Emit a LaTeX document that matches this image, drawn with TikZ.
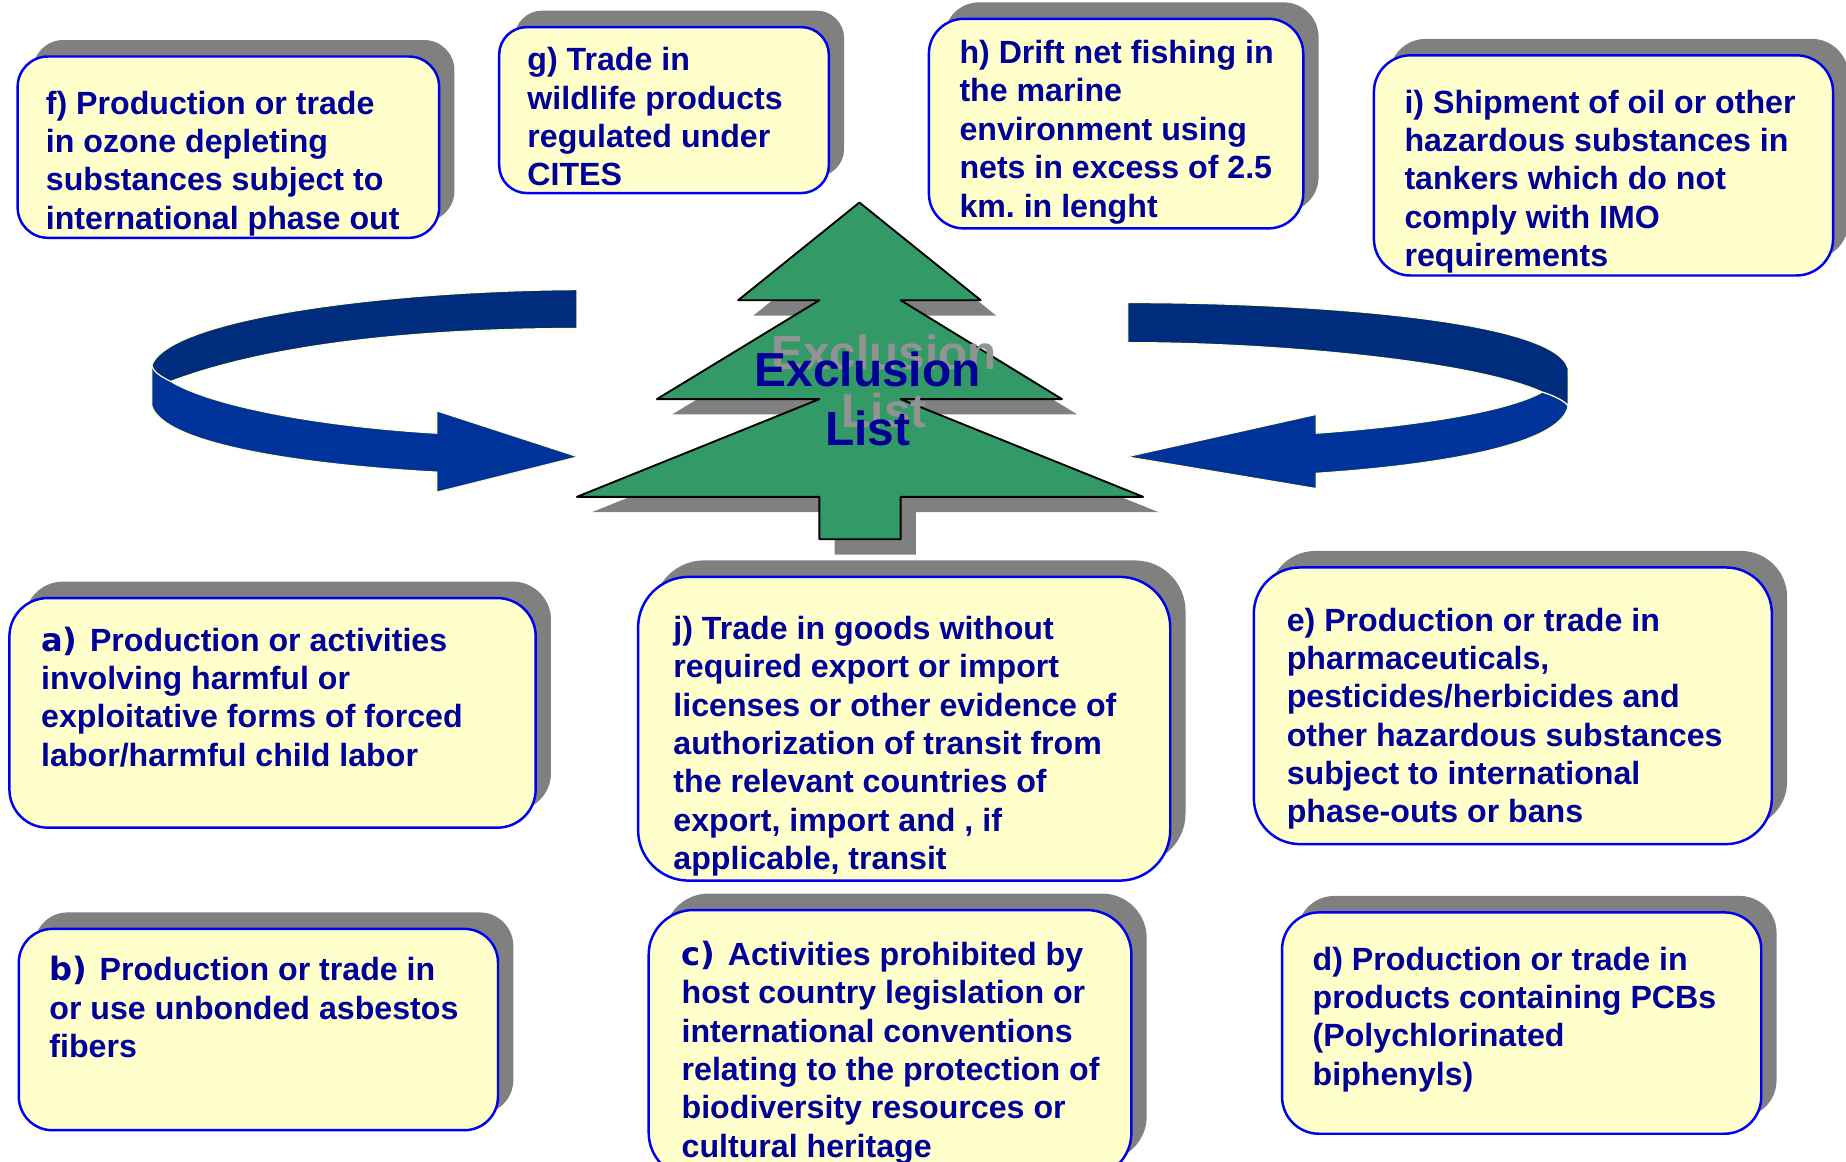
\documentclass[tikz,border=0pt]{standalone}
\usepackage{fontspec}
\setmainfont{Liberation Sans}[Scale=1]
\newfontfamily\lblfont{DejaVu Sans}
\frenchspacing
\definecolor{boxfill}{HTML}{FFFFCC}
\definecolor{boxline}{HTML}{0000F0}
\definecolor{shadowgray}{HTML}{808080}
\definecolor{inktxt}{HTML}{000099}
\definecolor{treegreen}{HTML}{339966}
\definecolor{arrowlight}{HTML}{003399}
\definecolor{arrowdark}{HTML}{002C7D}
\newcommand{\ebox}[8]{% name x1 y1 x2 y2 textx baseline text
  \pgfmathsetmacro{\bw}{#4-#2}\pgfmathsetmacro{\bh}{#5-#3}%
  \pgfmathsetmacro{\rr}{min(\bw,\bh)/6}%
  \pgfmathsetmacro{\padx}{#6-#2}%
  \pgfmathsetmacro{\tw}{\bw-2*\padx+10}%
  \pgfmathsetmacro{\dd}{#7-#3}%
  \fill[shadowgray,rounded corners=\rr pt] (#2+13,-#3+14) rectangle (#4+13,-#5+14);
  \node[ebx,rounded corners=\rr pt,inner xsep=0pt,anchor=north west] (#1) at (#2,-#3)
    {\hspace*{\padx pt}\begin{minipage}[c][\bh pt][t]{\tw pt}\rule{0pt}{\dd pt}#8\end{minipage}\hspace*{\padx pt}\hspace*{-10pt}};
}
\tikzset{
  x=1pt,y=1pt,
  ebx/.style={draw=boxline,fill=boxfill,line width=2.1pt,inner ysep=0pt,outer sep=0pt,text=inktxt,font=\fontsize{27.3}{32.6}\selectfont\bfseries},
  ribbon/.style={draw=boxfill,line width=1pt,line join=bevel},
  treeshape/.style={draw=black,line width=1.6pt,fill=treegreen,line join=round},
  treeshadow/.style={fill=shadowgray},
  tlabel/.style={font=\fontsize{40.6}{50}\selectfont\bfseries,align=center,text=inktxt},
  tlabelshadow/.style={font=\fontsize{40.6}{50}\selectfont\bfseries,align=center,text=shadowgray!85!white}
}
\begin{document}
\begin{tikzpicture}
\useasboundingbox (0,0) rectangle (1568,-987);
\clip (0,0) rectangle (1568,-987);
% boxes
\ebox{f}{15}{48}{373}{202}{39}{97}{f) Production or trade\\in ozone depleting\\substances subject to\\international phase out}
\ebox{g}{424}{23}{704}{164}{448}{60}{g) Trade in\\wildlife products\\regulated under\\CITES}
\ebox{h}{789}{16}{1107}{194}{815}{54}{h) Drift net fishing in\\the marine\\environment using\\nets in excess of 2.5\\km. in lenght}
\ebox{i}{1167}{47}{1557}{234}{1193}{96}{i) Shipment of oil or other\\hazardous substances in\\tankers which do not\\comply with IMO\\requirements}
\ebox{a}{8}{508}{455}{703}{35}{553}{{\lblfont a)}\hspace{3pt} Production or activities\\involving harmful or\\exploitative forms of forced\\labor/harmful child labor}
\ebox{j}{542}{490}{994}{748}{572}{543}{j) Trade in goods without\\required export or import\\licenses or other evidence of\\authorization of transit from\\the relevant countries of\\export, import and , if\\applicable, transit}
\ebox{e}{1065}{482}{1505}{717}{1093}{536}{e) Production or trade in\\pharmaceuticals,\\pesticides/herbicides and\\other hazardous substances\\subject to international\\phase-outs or bans}
\ebox{b}{16}{789}{423}{960}{42}{833}{{\lblfont b)}\hspace{3pt} Production or trade in\\or use unbonded asbestos\\fibers}
\ebox{c}{551}{773}{961}{1000}{579}{820}{{\lblfont c)}\hspace{3pt} Activities prohibited by\\host country legislation or\\international conventions\\relating to the protection of\\biodiversity resources or\\cultural heritage}
\ebox{d}{1089}{775}{1496}{963}{1115}{824}{d) Production or trade in\\products containing PCBs\\(Polychlorinated\\biphenyls)}
% tree
\fill[treeshadow,shift={(13,-13)}] (730,-172)--(833,-255)--(765,-255)--(902,-339)--(765,-339)--(971,-422)--(765,-422)--(765,-458)--(696,-458)--(696,-422)--(490,-422)--(696,-339)--(558,-339)--(696,-255)--(627,-255)--cycle;
\draw[treeshape] (730,-172)--(833,-255)--(765,-255)--(902,-339)--(765,-339)--(971,-422)--(765,-422)--(765,-458)--(696,-458)--(696,-422)--(490,-422)--(696,-339)--(558,-339)--(696,-255)--(627,-255)--cycle;
\node[tlabelshadow] (tlshadow) at (751,-324) {Exclusion\\List};
\node[tlabel] (tl) at (737,-339) {Exclusion\\List};
% left arrow
\draw[ribbon,fill=arrowlight] (129,-310)--(129,-345) .. controls (140,-378) and (260,-395) .. (371,-401)--(371,-418)--(491,-388)--(371,-349)--(371,-368) .. controls (270,-362) and (180,-345) .. (145,-324)--cycle;
\draw[ribbon,fill=arrowdark] (490,-246) .. controls (330,-247) and (145,-270) .. (129,-310) .. controls (130,-316) and (137,-320) .. (145,-324) .. controls (240,-288) and (380,-279) .. (490,-279)--cycle;
% right arrow
\draw[ribbon,fill=arrowlight] (1332,-345) .. controls (1325,-380) and (1210,-396) .. (1118,-402)--(1118,-415)--(957,-388)--(1118,-352)--(1118,-368) .. controls (1200,-362) and (1280,-350) .. (1310,-333) .. controls (1320,-336) and (1330,-341) .. (1332,-345)--cycle;
\draw[ribbon,fill=arrowdark] (958,-257) .. controls (1100,-257) and (1320,-270) .. (1332,-313)--(1332,-345) .. controls (1330,-341) and (1320,-336) .. (1310,-333) .. controls (1250,-306) and (1080,-291) .. (958,-291)--cycle;
\end{tikzpicture}
\end{document}
